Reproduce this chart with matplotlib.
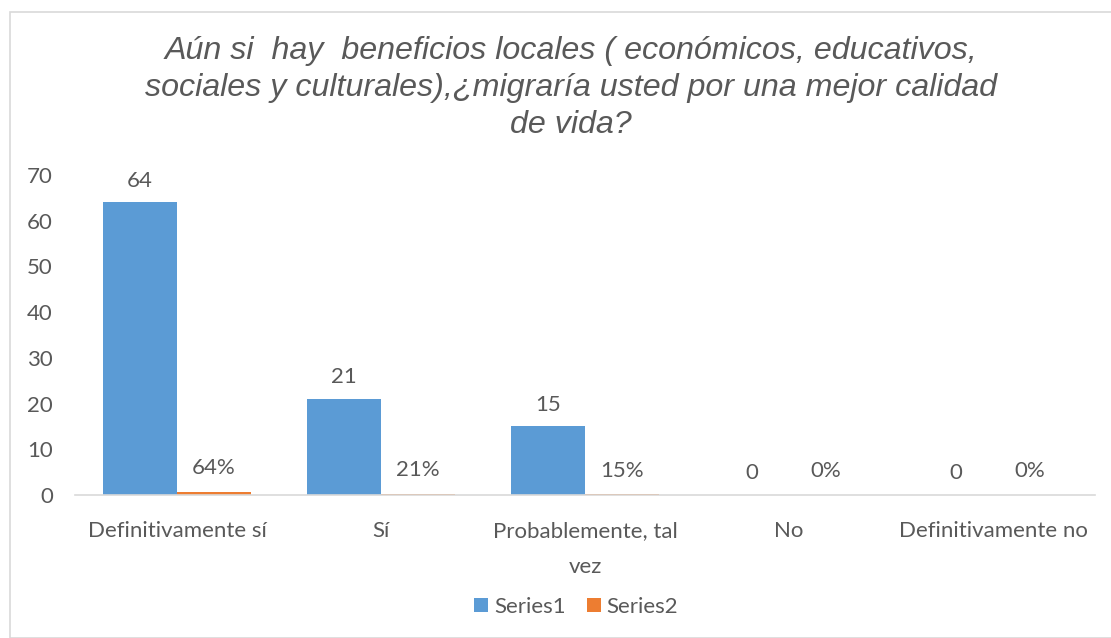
import matplotlib
matplotlib.use("Agg")
import matplotlib.pyplot as plt
from matplotlib.patches import Rectangle
import numpy as np

categories = ["Definitivamente sí", "Sí", "Probablemente, tal\nvez", "No", "Definitivamente no"]
series1 = [64, 21, 15, 0, 0]
series2 = [0.64, 0.21, 0.15, 0, 0]
series_names = ["Series1", "Series2"]
title = "Aún si  hay  beneficios locales ( económicos, educativos,\nsociales y culturales),¿migraría usted por una mejor calidad\nde vida?"
yticks = [0, 10, 20, 30, 40, 50, 60, 70]

W, H = 1111, 638
fig = plt.figure(figsize=(W / 100, H / 100), dpi=100)
fig.patches.append(Rectangle((10 / W, 0), 1.2, 1 - 12 / H, transform=fig.transFigure,
                             fill=False, edgecolor="#D9D9D9", linewidth=1.2))

ax = fig.add_axes([75 / W, (H - 495) / H, (1095 - 75) / W, (495 - 175) / H])
txt = "#595959"
font = "Lato"
fs = 16
x = np.arange(len(categories))
w = 0.363
b1 = ax.bar(x - w / 2, series1, w, color="#5B9BD5", label=series_names[0])
b2 = ax.bar(x + w / 2, series2, w, color="#ED7D31", label=series_names[1])

for xi, v in zip(x, series1):
    ax.annotate(f"{v}", (xi - w / 2, v), xytext=(0, 15.5), textcoords="offset points",
                ha="center", va="center", fontsize=fs, color=txt, family=font)
for xi, v in zip(x, series2):
    ax.annotate(f"{v:.0%}", (xi + w / 2, v), xytext=(0, 17), textcoords="offset points",
                ha="center", va="center", fontsize=fs, color=txt, family=font)

ax.set_xlim(-0.5, len(categories) - 0.5)
ax.set_ylim(0, 70)
ax.set_yticks(yticks)
ax.set_yticklabels([str(t) for t in yticks], fontsize=fs, color=txt, family=font)
ax.set_xticks(x)
ax.set_xticklabels(categories, fontsize=fs, color=txt, family=font, linespacing=1.95)
ax.tick_params(axis="both", length=0)
ax.tick_params(axis="x", pad=19)
ax.tick_params(axis="y", pad=16)
for s in ["top", "right", "left"]:
    ax.spines[s].set_visible(False)
ax.spines["bottom"].set_color("#D9D9D9")
ax.spines["bottom"].set_linewidth(1.2)

fig.text(571 / W, 1 - 88 / H, title, ha="center", va="center", fontsize=23.2,
         style="italic", color=txt, family="Liberation Sans", linespacing=1.3)

leg = fig.legend(handles=[b1, b2], labels=series_names, loc="center",
                 bbox_to_anchor=(576 / W, 1 - 607 / H), ncol=2, frameon=False,
                 handlelength=0.63, handleheight=0.63, handletextpad=0.25,
                 columnspacing=0.95, prop={"family": font, "size": fs})
for t in leg.get_texts():
    t.set_color(txt)

fig.savefig("out.png", dpi=100)
